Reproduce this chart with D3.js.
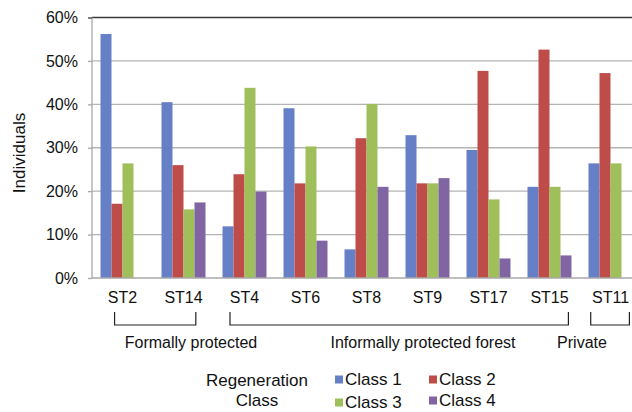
<!DOCTYPE html>
<html><head><meta charset="utf-8">
<script src="https://cdn.jsdelivr.net/npm/d3@7"></script>
<style>body{margin:0;background:#fff}svg{display:block;font-family:"Liberation Sans",Arial,sans-serif}</style>
</head><body><svg id="c" width="632" height="412"></svg>
<script>
const categories = ["ST2","ST14","ST4","ST6","ST8","ST9","ST17","ST15","ST11"];
const seriesNames = ["Class 1","Class 2","Class 3","Class 4"];
const class1 = [56.2,40.5,11.9,39.1,6.6,32.9,29.5,21.0,26.4];
const class2 = [17.1,26.0,23.9,21.8,32.2,21.8,47.7,52.6,47.2];
const class3 = [26.4,15.8,43.8,30.3,40.1,21.8,18.1,21.0,26.4];
const class4 = [0,17.4,19.9,8.6,21.0,23.0,4.5,5.2,0];
const yTicks = [0,10,20,30,40,50,60];
const groupLabels = ["Formally protected","Informally protected forest","Private"];
const groupFrom = ["ST2","ST4","ST11"];
const groupTo = ["ST14","ST15","ST11"];

// styling / layout constants
const colors = ["#6580C6","#BE4D4A","#9FBF5A","#8164A2"];
const seriesData = [class1,class2,class3,class4];
const bracketInset = [[0.32,0.22],[0.17,0.07],[0.05,0.07]];
const labelX = [191,423,582];
const FONT = "Liberation Sans, Arial, sans-serif";

const svg = d3.select("#c");
const mLeft = 92, mTop = 17.5, mBottom = 278, mRight = 641;
const x = d3.scaleBand().domain(categories).range([mLeft,mRight]).paddingInner(0.279).paddingOuter(0.1395);
const x1 = d3.scaleBand().domain(seriesNames).range([0,x.bandwidth()]);
const y = d3.scaleLinear().domain([0,60]).range([mBottom,mTop]);

// gridlines
svg.append("g").selectAll("line").data(yTicks.filter(d=>d>0&&d<60)).join("line")
  .attr("x1",mLeft).attr("x2",mRight).attr("y1",d=>y(d)).attr("y2",d=>y(d))
  .attr("stroke","#b4b4b4").attr("stroke-width",1.3);
svg.append("line").attr("x1",mLeft).attr("x2",mRight).attr("y1",y(60)).attr("y2",y(60))
  .attr("stroke","#3a3a3a").attr("stroke-width",1.3);

// bars
categories.forEach((c,i)=>{
  seriesNames.forEach((s,j)=>{
    const v = seriesData[j][i];
    if (v<=0) return;
    svg.append("rect").attr("x",x(c)+x1(s)).attr("width",x1.bandwidth())
      .attr("y",y(v)).attr("height",y(0)-y(v)).attr("fill",colors[j]);
  });
});

// y axis
const yAxis = d3.axisLeft(y).tickValues(yTicks).tickSize(4).tickPadding(10).tickFormat(d=>d+"%");
const ga = svg.append("g").attr("transform",`translate(${mLeft},0)`).call(yAxis);
ga.attr("font-family",FONT);
ga.select(".domain").attr("stroke","#a8a8a8").attr("stroke-width",1.3).attr("d",`M0,${y(60)}V${y(0)}`);
ga.selectAll(".tick line").attr("stroke","#a8a8a8").attr("stroke-width",1.3);
ga.selectAll(".tick text").attr("font-size",16).attr("fill","#111");
ga.selectAll(".tick").filter(d=>d===60).select("line").attr("stroke","#3a3a3a");

// x axis
svg.append("line").attr("x1",mLeft).attr("x2",mRight).attr("y1",mBottom).attr("y2",mBottom)
  .attr("stroke","#a8a8a8").attr("stroke-width",1.3);
const xAxis = d3.axisBottom(x).tickSize(0).tickPadding(14);
const gx = svg.append("g").attr("transform",`translate(0,${mBottom})`).call(xAxis);
gx.attr("font-family",FONT);
gx.select(".domain").remove();
gx.selectAll(".tick text").attr("font-size",16).attr("fill","#111");

// y title
svg.append("text").attr("transform","translate(25,153) rotate(-90)").attr("text-anchor","middle")
  .attr("font-size",17).attr("fill","#111").text("Individuals");

// brackets
const bTop = 312, bBot = 325;
groupLabels.forEach((g,i)=>{
  const xa = x(groupFrom[i]) + x.bandwidth()*bracketInset[i][0];
  const xb = x(groupTo[i]) + x.bandwidth()*(1-bracketInset[i][1]);
  svg.append("path").attr("d",`M${xa},${bTop}V${bBot}H${xb}V${bTop}`)
    .attr("fill","none").attr("stroke","#222").attr("stroke-width",1.2);
  svg.append("text").attr("x",labelX[i]).attr("y",348).attr("text-anchor","middle")
    .attr("font-size",16).attr("fill","#111").text(g);
});

// legend
svg.append("text").attr("x",257).attr("y",386).attr("text-anchor","middle").attr("font-size",17).attr("fill","#111").text("Regeneration");
svg.append("text").attr("x",257).attr("y",406).attr("text-anchor","middle").attr("font-size",17).attr("fill","#111").text("Class");
const legPos = [[335,385],[429,385],[335,408],[429,406]];
seriesNames.forEach((s,j)=>{
  const [lx,ly] = legPos[j];
  svg.append("rect").attr("x",lx).attr("y",ly-9.5).attr("width",8).attr("height",8).attr("fill",colors[j]);
  svg.append("text").attr("x",lx+10).attr("y",ly).attr("font-size",17).attr("fill","#111").text(s);
});
</script></body></html>
